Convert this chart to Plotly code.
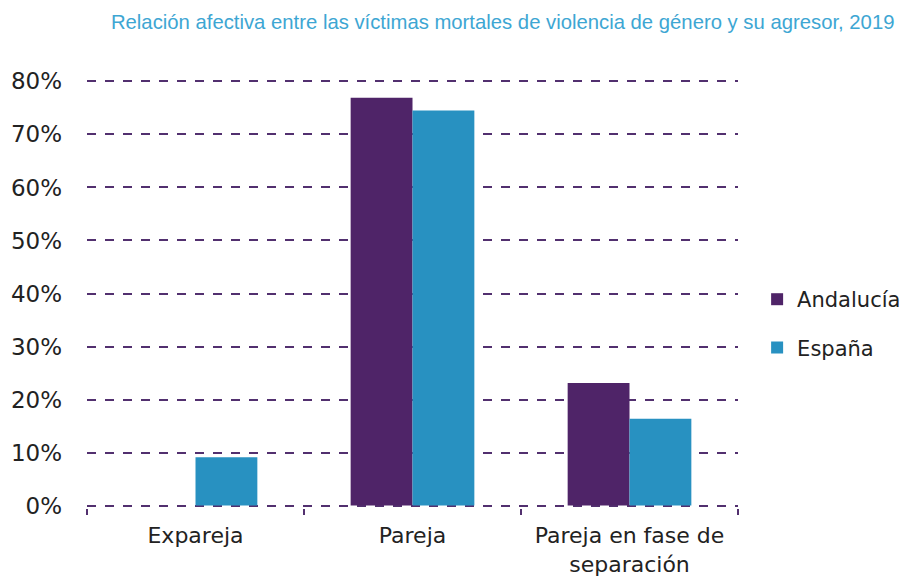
import plotly.graph_objects as go

categories = ["Expareja", "Pareja", "Pareja en fase de<br>separación"]
andalucia = [0.0, 76.9, 23.1]
espana = [9.1, 74.5, 16.4]
series_names = ["Andalucía", "España"]
y_ticks = [0, 10, 20, 30, 40, 50, 60, 70, 80]
y_labels = [f"{v}%" for v in y_ticks]

purple = "#4f2468"
blue = "#2891c1"
grid = "#52306f"

fig = go.Figure()
fig.add_bar(x=categories, y=andalucia, name=series_names[0], marker_color=purple,
            marker_line_width=0, legendgroup="a")
fig.add_bar(x=categories, y=espana, name=series_names[1], marker_color=blue,
            marker_line_width=0, legendgroup="b")

fig.update_layout(
    width=912, height=579,
    margin=dict(l=79, r=182, t=71, b=79),
    paper_bgcolor="white", plot_bgcolor="white",
    barmode="group", bargap=0.43, bargroupgap=0,
    font=dict(family="DejaVu Sans, sans-serif", color="#222222"),
    title=dict(text="Relación afectiva entre las víctimas mortales de violencia de género y su agresor, 2019",
               x=0.972, xanchor="right", y=0.988, yanchor="top",
               font=dict(size=20.3, color="#3da6d3", family="Liberation Sans Narrow, sans-serif")),
    legend=dict(x=0.8214, y=0.455, xref="container", yref="container",
                xanchor="left", yanchor="middle",
                font=dict(size=21, color="#222222"), tracegroupgap=18, traceorder="grouped",
                itemwidth=30),
    showlegend=True,
)
fig.update_yaxes(range=[-0.45, 80.45], tickvals=y_ticks, ticktext=y_labels,
                 showgrid=True, gridcolor=grid, griddash="dash", gridwidth=1.5,
                 zeroline=False, showline=False, tickfont=dict(size=23), ticks="",
                 ticklabelstandoff=24, automargin=False)
fig.update_xaxes(showgrid=False, showline=False, ticks="outside", tickson="boundaries",
                 ticklen=6, tickcolor=grid, tickwidth=1.5, tickfont=dict(size=22),
                 ticklabelstandoff=12, automargin=False)
fig.write_html("out.html")
